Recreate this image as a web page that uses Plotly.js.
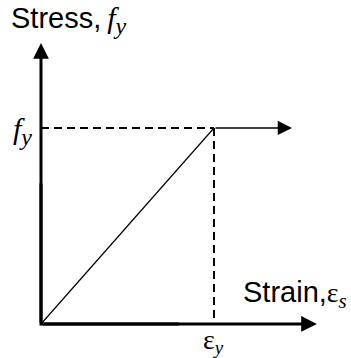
<!DOCTYPE html>
<html>
<head>
<meta charset="utf-8">
<script src="https://cdn.plot.ly/plotly-3.0.1.min.js"></script>
<style>html,body{margin:0;padding:0;background:#fff;}#chart{width:351px;height:358px;}</style>
</head>
<body>
<div id="chart"></div>
<script>
// Relative (normalised) values of the elastic–perfectly-plastic model
var strainYield = 1.0;        // ε_y
var stressYield = 1.0;        // f_y
var strainPlateauEnd = 1.451; // end of the plastic plateau arrow
var strainAxisEnd = 1.595;    // tip of the strain axis
var stressAxisEnd = 1.434;    // tip of the stress axis

// Curve: elastic branch then plateau
var curveStrain = [0, strainYield, strainPlateauEnd];
var curveStress = [0, stressYield, stressYield];

// Labels
var yAxisLabel = 'Stress,';
var xAxisLabel = 'Strain,';
var yieldStressSym = 'f';
var yieldStrainSym = '\u03b5';

var SANS = "Liberation Sans, Arial, sans-serif";
var SERIF = "Liberation Serif, Times New Roman, serif";

function sym(s, size, italic){
  var st = 'font-family:' + SERIF + ';font-size:' + size + 'px;' + (italic ? 'font-style:italic;' : '');
  return '<span style="' + st + '">' + s + '</span>';
}
function sub(s, size){ return '<sub>' + sym(s, size, true) + '</sub>'; }

var traces = [
  // axes corner (L shape)
  {x:[0, 0, strainAxisEnd*0.5], y:[stressAxisEnd*0.5, 0, 0], mode:'lines',
   line:{color:'#000', width:3}, hoverinfo:'skip', showlegend:false},
  // dashed projection lines
  {x:[0, strainYield], y:[stressYield, stressYield], mode:'lines',
   line:{color:'#000', width:2, dash:'8px,5px'}, hoverinfo:'skip', showlegend:false},
  {x:[strainYield, strainYield], y:[stressYield, 0], mode:'lines',
   line:{color:'#000', width:2, dash:'8px,5px'}, hoverinfo:'skip', showlegend:false},
  // elastic branch
  {x:curveStrain.slice(0,2), y:curveStress.slice(0,2), mode:'lines',
   line:{color:'#000', width:1.2}, hoverinfo:'skip', showlegend:false}
];

var annotations = [
  // y axis arrow
  {x:0, y:stressAxisEnd, ax:0, ay:0, xref:'x', yref:'y', axref:'x', ayref:'y',
   text:'', showarrow:true, arrowhead:2, arrowsize:1.05, arrowwidth:3, arrowcolor:'#000'},
  // x axis arrow
  {x:strainAxisEnd, y:0, ax:0, ay:0, xref:'x', yref:'y', axref:'x', ayref:'y',
   text:'', showarrow:true, arrowhead:2, arrowsize:1.05, arrowwidth:3, arrowcolor:'#000'},
  // plateau arrow
  {x:curveStrain[2], y:curveStress[2], ax:curveStrain[1], ay:curveStress[1],
   xref:'x', yref:'y', axref:'x', ayref:'y',
   text:'', showarrow:true, arrowhead:2, arrowsize:1.9, arrowwidth:1.5, arrowcolor:'#000'},
  // axis titles
  {xref:'paper', yref:'paper', x:0, y:1, xanchor:'left', yanchor:'top', xshift:9, yshift:1,
   text: yAxisLabel + sym('\u2009' + yieldStressSym, 30, true) + sub('y', 24), showarrow:false,
   font:{family:SANS, size:29, color:'#000'}},
  {xref:'x', yref:'y', x:strainAxisEnd, y:0, xanchor:'right', yanchor:'bottom', xshift:32, yshift:9,
   text: xAxisLabel + sym(yieldStrainSym, 28, false) + sub('s', 21), showarrow:false,
   font:{family:SANS, size:29, color:'#000'}},
  // tick-like labels
  {xref:'x', yref:'y', x:0, y:stressYield, xanchor:'right', yanchor:'middle', xshift:-7, yshift:-3,
   text: sym(yieldStressSym, 30, true) + sub('y', 24), showarrow:false,
   font:{family:SERIF, size:30, color:'#000'}},
  {xref:'x', yref:'y', x:strainYield, y:0, xanchor:'center', yanchor:'top', yshift:2,
   text: sym(yieldStrainSym, 28, false) + sub('y', 19), showarrow:false,
   font:{family:SERIF, size:24, color:'#000'}}
];

var layout = {
  width:351, height:358,
  margin:{l:0, r:0, t:0, b:0},
  paper_bgcolor:'#fff', plot_bgcolor:'#fff',
  xaxis:{range:[-0.237, 1.792], visible:false, fixedrange:true},
  yaxis:{range:[-0.1735, 1.653], visible:false, fixedrange:true},
  showlegend:false,
  annotations:annotations
};

Plotly.newPlot('chart', traces, layout, {staticPlot:true, displayModeBar:false});
</script>
</body>
</html>
